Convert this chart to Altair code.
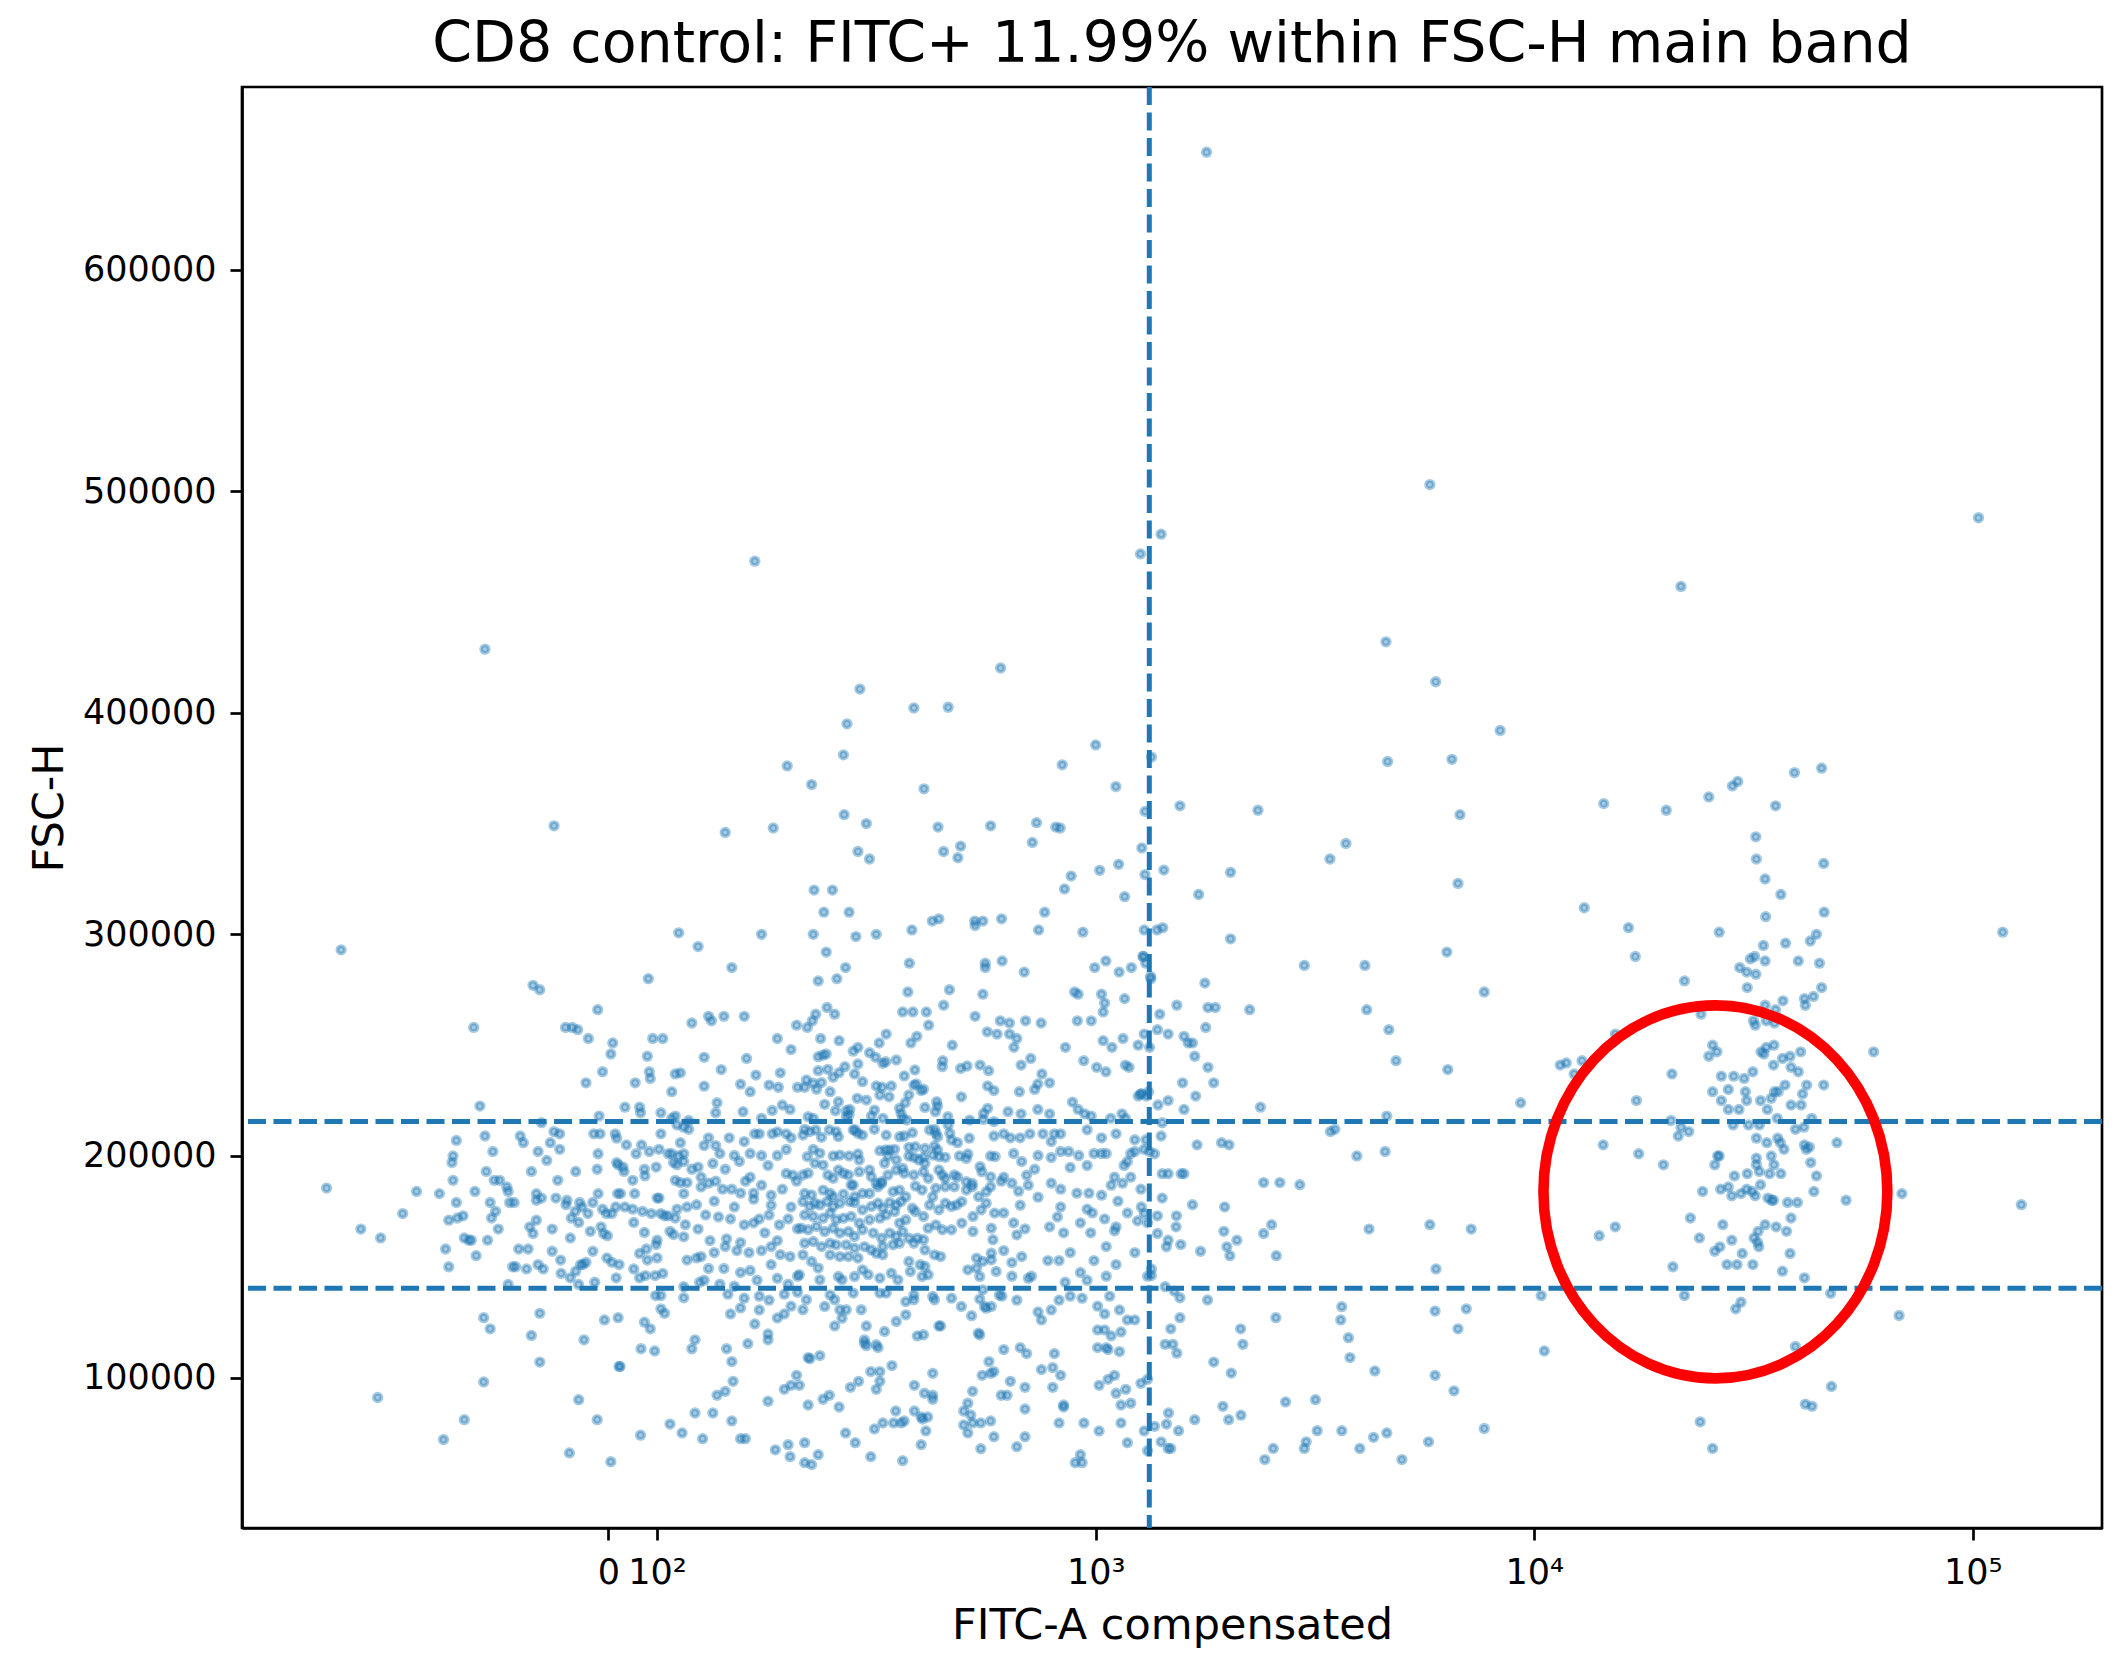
import math
import altair as alt
import pandas as pd

TITLE = "CD8 control: FITC+ 11.99% within FSC-H main band"
X_TITLE = "FITC-A compensated"
Y_TITLE = "FSC-H"
BLUE = "#1f77b4"
RED = "#ff0000"

x_tick_values = [0, 100, 1000, 10000, 100000]
x_tick_labels = ["0", "10²", "10³", "10⁴", "10⁵"]
y_tick_values = [100000, 200000, 300000, 400000, 500000, 600000]
x_limits = [-530, 197000]
y_limits = [32100, 682400]
fitc_gate = [1325]
fsc_band = [140300, 215500]
highlight_center = [25880, 183800]

# points: (FITC-A compensated, FSC-H in thousands)
outlier_points = [(1790, 653)]

left_points = [
    (-315, 293), (-340, 185.5), (-284, 167), (-256, 163), (-228, 174), (-212, 184), (-188, 183), (-260, 91), (-184, 72), (-165, 81),
    (-157, 258), (-152, 222.5), (-172, 207), (-175, 200), (-176, 197), (-175, 189), (-172, 179), (-179, 171), (-171, 172), (-166, 173),
    (-182, 158), (-179, 150), (-165, 163), (-161, 162), (-159, 162), (-155, 155), (-148, 209), (-142, 202), (-147, 193), (-141, 189),
    (-137, 189), (-132, 186), (-131, 184), (-156, 184), (-144, 179), (-140, 175), (-143, 172), (-130, 179), (-127, 179), (-138, 167),
    (-146, 162), (-124, 158), (-118, 158), (-128, 150), (-126, 150), (-119, 149), (-131, 142), (-149, 127), (-144, 122), (-111, 129),
    (-116, 119), (-111, 107), (-149, 98), (-123, 209), (-121, 206), (-115, 277), (-111, 275), (-112, 202), (-107, 198), (-105, 206),
    (-100, 203), (-103, 211), (-100, 210), (-110, 215), (-116, 193), (-113, 183), (-110, 181), (-113, 180), (-117, 168), (-115, 165),
    (-113, 171), (-104, 167), (-104, 157), (-112, 151), (-109, 149), (-98, 153), (-88, 258), (-74, 258), (-63, 257), (-101, 189),
    (-102, 181), (-85, 180), (-87, 178), (-76, 172), (-78, 163), (-67, 193), (-59, 179), (-54, 177), (-68, 175), (-61, 170),
    (-97, 147), (-78, 145), (-67, 148), (-57, 151), (-41, 253), (-22, 266), (-46, 233), (-12, 238), (9, 251), (5, 246),
    (-30, 210), (-17, 210), (-21, 201), (-23, 194), (-21, 183), (-32, 179), (-42, 174), (-12, 176), (-4, 174), (7, 174),
    (-37, 166), (-15, 168), (-10, 165), (-2, 164), (-32, 157), (-46, 152), (-52, 151), (-28, 143), (-61, 142), (-3, 154),
    (16, 145), (7, 152), (22, 151), (-8, 126), (20, 127), (-50, 117), (22, 105), (-61, 90), (-23, 81), (-80, 66),
    (5, 62), (34, 222), (64, 222), (66, 219.5), (-19, 218), (14, 210), (17, 208), (37, 205), (57, 201), (68, 205),
    (84, 202), (101, 203), (102, 210), (17, 197), (20, 196), (30, 195), (32, 193), (50, 189), (74, 194), (75, 191),
    (98, 195), (19, 183), (25, 183), (54, 183), (15, 177), (34, 177), (50, 176), (70, 175), (52, 170), (74, 165.5),
    (88, 174), (102, 174), (104, 173), (100, 181), (101, 181), (100, 162), (98, 160), (64, 156), (78, 158), (100, 154),
    (80, 153), (52, 149), (64, 145), (76, 146), (96, 146), (103, 147), (97, 137), (102, 137), (102, 131), (104, 129),
    (86, 122), (74, 125), (67, 113), (95, 112), (24, 105), (66, 74), (107, 79), (114, 75), (122, 84), (122, 117),
    (120, 113), (108, 217), (110, 218), (118, 216), (102, 219.5), (110, 237), (113, 237.5), (108, 229), (82, 280), (112, 300.7),
    (124, 294.5), (120, 260), (91, 253), (103, 253), (80, 245), (84, 238), (86, 235), (55, 233), (111, 214), (115, 213),
    (118, 212), (113, 206), (106, 201), (108, 201), (112, 200), (115, 201), (109, 197), (111, 196), (115, 197.5),
    (120, 194), (124, 195), (110, 189), (113, 188), (117, 188), (115, 183), (126, 186), (117, 177), (111, 176), (123, 178),
    (106, 173), (110, 172), (116, 169), (124, 167), (107, 166), (109, 164.5), (115, 163.5), (117, 153), (123, 154), (125, 143),
    (115, 141), (115, 136),
]

upper_scatter_points = [
    (167, 468.4), (-148, 428.7), (1265, 471.7), (1410, 480.6), (607, 420.2), (290, 410.7), (385, 402.2), (461, 402.5),
    (271, 395), (1000, 385.5), (1340, 380), (266, 381), (198, 376), (839, 376.5), (225, 367.6), (406, 365.7), (1112, 366.7),
    (1296, 355.5), (-103, 349), (143, 346), (184, 348), (267, 354), (300, 350), (437, 348.4), (576, 349), (733, 350.4),
    (811, 348.4), (830, 348), (287, 337.4), (305, 334), (450, 337.4), (492, 339.8), (485, 334.6), (717, 341.5), (1274, 339),
    (879, 326.3), (1021, 328.9), (1128, 331.6), (1296, 327), (1430, 329),
]

core_upper_points = [
    (228, 320), (251, 320), (240, 310), (274, 310), (173, 300), (227, 300), (284, 299), (316, 300), (381, 302), (424, 306),
    (439, 307), (530, 306), (553, 306), (531, 304), (610, 307), (741, 302), (765, 310), (849, 320.5), (1164, 317), (935, 301),
    (243, 292), (148, 285), (269, 285), (233, 279), (257, 280), (376, 287), (464, 275), (553, 273), (560, 287), (560, 285),
    (612, 288), (687, 283), (373, 274), (895, 274), (912, 273), (995, 285), (1055, 288), (1131, 283), (1206, 285), (1282, 290),
    (1336, 280), (1031, 273), (1048, 269), (1040, 265), (1164, 271), (977, 261), (908, 261), (751, 260), (692, 261), (636, 260),
    (606, 261), (531, 263), (450, 268), (363, 265), (383, 265), (411, 265), (416, 259), (244, 267), (254, 264), (208, 259),
    (220, 258), (226, 261), (230, 264), (131, 263), (133, 261), (142, 263), (158, 263),
    (188, 253), (202, 248), (236, 253), (260, 252), (282, 248), (287, 249), (321, 251), (333, 255), (306, 246), (314, 244.5),
    (379, 251), (391, 254), (471, 250), (566, 256), (596, 255), (636, 255), (661, 253), (651, 249), (853, 249), (1040, 252),
    (1089, 249), (1154, 253), (1250, 250), (939, 243), (1005, 240), (1055, 238), (1169, 241), (1191, 240), (1327, 249), (676, 241),
    (711, 244), (754, 237), (785, 233), (738, 232.5), (726, 230), (555, 241), (582, 238.5), (557, 232.5), (455, 242.5), (452, 240),
    (502, 239), (511, 240), (392, 238), (371, 236), (354, 243), (320, 242), (247, 239), (270, 240), (254, 236), (265, 236),
    (232, 244), (243, 246), (236, 239), (225, 234), (217, 231), (209, 231), (168, 236.5), (191, 237.5), (180, 232), (189, 231),
    (160, 244), (140, 239), (128, 244.5), (128, 231.5), (137, 224), (136, 219.5), (155, 232.4), (163, 229), (157, 220), (183, 220.5),
    (173, 217), (193, 223), (201, 221), (214, 220), (243, 222.5), (257, 224), (274, 221), (288, 226), (302, 225), (320, 231),
    (345, 230.5), (343, 227), (349, 226), (364, 221), (367, 219), (385, 232), (403, 230.5), (416, 229.7), (438, 224), (441, 221),
    (414, 221), (504, 226), (578, 231.5), (596, 229.7), (670, 229), (885, 224.3), (912, 221), (944, 219), (977, 218), (1082, 217),
    (1148, 219), (1169, 217), (1250, 227), (1267, 228), (1305, 227), (738, 221), (785, 219), (676, 219), (631, 220), (520, 220),
    (580, 221),
]

core_band_points = [
    (131, 208.2), (136, 204.7), (146, 208.2), (158, 206.5), (167, 210), (171, 210), (183, 210), (188, 210.9), (197, 210), (202, 208.2),
    (221, 211.8), (228, 210), (239, 210.9), (247, 210), (262, 210.9), (271, 210), (283, 208.2), (296, 208.2), (316, 210.9), (337, 210),
    (359, 208.2), (386, 210), (421, 210.9), (432, 211.8), (459, 207.3), (471, 210), (492, 206.5), (528, 210), (586, 214.5), (617, 210),
    (639, 208.2), (673, 208.2), (708, 210), (758, 210), (792, 206.5), (805, 210), (832, 210), (868, 202), (956, 211.8), (1031, 208.2),
    (1113, 210), (1202, 201.1), (1228, 207.3), (1302, 207.3),
    (128, 204.7), (134, 196.6), (139, 201.1), (143, 194), (150, 200.2), (154, 197.5), (163, 201.1), (173, 200.2), (179, 195.7), (188, 200.2),
    (197, 202.9), (204, 191.3), (213, 192.1), (221, 204.7), (231, 200.2), (237, 201.1), (251, 200.2), (258, 200.2), (274, 200.2), (286, 200.2),
    (296, 204.7), (307, 202.9), (325, 199.3), (337, 201.1), (356, 203.8), (366, 200.2), (379, 197.5), (393, 201.1), (414, 200.2), (429, 202.9),
    (440, 204.7), (463, 200.2), (483, 200.2), (511, 200.2), (537, 197.5), (551, 194), (590, 200.2), (609, 188.6), (650, 201.1), (678, 197.5),
    (696, 191.3), (739, 200.2), (792, 199.3), (832, 202), (875, 194.8), (915, 200.2), (956, 195.7), (991, 201.1), (1031, 201.1), (1057, 201.1),
    (1104, 190.4), (1161, 195.7), (1181, 197.5), (1228, 202), (1326, 202), (726, 194), (576, 193), (337, 193), (262, 192.1), (197, 192.1),
    (163, 190.4),
    (126, 190.4), (131, 187.7), (136, 188.6), (141, 185), (148, 185), (155, 183.2), (159, 188.6), (166, 183.2), (173, 186.8), (182, 182.3),
    (193, 185), (208, 188.6), (219, 182.3), (227, 181.4), (235, 190.4), (247, 187.7), (254, 182.3), (266, 186.8), (283, 185), (296, 183.2),
    (307, 187.7), (322, 185), (337, 182.3), (353, 189.5), (360, 185), (373, 181.4), (400, 186.8), (421, 188.6), (436, 185), (459, 187.7),
    (475, 190.4), (496, 185), (511, 186.8), (528, 181.4), (556, 182.3), (580, 183.2), (617, 190.4), (644, 187.7), (667, 184.1), (702, 186.8),
    (739, 181.4), (792, 187.7), (832, 185), (906, 183.2), (965, 183.2), (1031, 182.3), (1085, 186.8), (1151, 187.7), (1202, 190.4), (1268, 185),
    (1124, 179.6), (956, 176), (832, 177), (673, 177.8), (596, 176), (528, 177.8), (475, 177), (421, 177.8), (386, 176), (337, 179.6),
    (296, 175.2), (271, 177.8), (254, 176), (225, 179.6), (202, 177), (182, 177.8), (166, 180.5), (150, 177), (135, 179.6),
    (129, 173.4), (138, 172.5), (147, 171.6), (158, 168.9), (166, 169.8), (171, 171.6), (180, 173.4), (190, 168.9), (199, 171.6), (209, 167.1),
    (221, 169.8), (235, 172.5), (245, 168.9), (258, 171.6), (271, 167.1), (286, 169.8), (302, 172.5), (313, 166.2), (331, 171.6), (350, 168),
    (366, 169.8), (386, 174.3), (407, 167.1), (429, 169.8), (451, 173.4), (475, 166.2), (500, 169.8), (528, 167.1), (556, 171.6), (586, 168.9),
    (617, 174.3), (650, 169.8), (690, 167.1), (785, 168), (818, 172.5), (845, 165.3), (923, 169.8), (983, 174.3), (1048, 171.6), (1113, 168),
    (1181, 174.3), (1246, 170.7), (1313, 169.8), (132, 161.8), (144, 162.6), (155, 160.9), (176, 165.3), (188, 161.8), (213, 164.4), (228, 161.8),
    (243, 163.5), (264, 162.6), (278, 161.8), (325, 164.4), (359, 162.6), (393, 161.8), (443, 164.4), (492, 166.2), (524, 165.3), (576, 163.5),
    (661, 164.4), (974, 165.3), (1104, 166.2),
    (126, 154.6), (135, 156.4), (143, 159.1), (152, 157.3), (162, 156.4), (173, 157.3), (182, 159.1), (191, 155.5), (201, 154.6), (213, 154.6),
    (225, 158.2), (241, 156.4), (254, 159.1), (266, 154.6), (281, 157.3), (296, 154.6), (313, 158.2), (331, 155.5), (350, 156.4), (360, 160),
    (379, 151), (403, 150.1), (421, 154.6), (443, 154.6), (467, 157.3), (511, 147.4), (537, 152.8), (566, 154.6), (586, 147.4), (617, 157.3),
    (644, 151.9), (678, 154.6), (714, 145.7), (778, 152.8), (825, 152.8), (875, 156.4), (923, 147.4), (991, 152.8), (1057, 159.1), (1113, 151),
    (1228, 156.4), (1313, 145.7), (131, 149.2), (142, 149.2), (155, 147.4), (163, 148.3), (182, 151), (209, 145.7), (225, 149.2), (237, 147.4),
    (249, 149.2), (262, 144.8), (286, 145.7), (302, 151), (325, 145.7), (346, 145.7), (373, 145.7), (393, 147.4), (421, 145.7), (451, 142.1),
    (492, 143.9), (542, 145.7), (596, 145.7), (644, 145.7), (702, 144.8), (852, 143), (956, 143.9), (1057, 145.7), (128, 143.9), (139, 142.1),
    (150, 141.2), (169, 143.9), (188, 144.8), (199, 142.1), (249, 143), (276, 142.1), (307, 143.9), (337, 141.2),
]

core_lower_points = [
    (145, 137.6), (158, 135.8), (171, 136.7), (180, 134.9), (195, 137.6), (209, 138.5), (225, 134), (243, 131.4), (254, 136.7), (266, 132.2),
    (281, 137.6), (293, 129.6), (313, 138.5), (325, 136.7), (337, 137.6), (360, 138.5), (376, 133.1), (389, 134), (429, 135.8), (459, 137.6),
    (475, 134.9), (500, 131.4), (537, 137.6), (566, 131.4), (611, 136.7), (661, 134.9), (739, 129.6), (792, 130.5), (825, 134.9), (875, 136.7),
    (931, 135.8), (1010, 132.2), (1076, 136.7), (1048, 128.7), (1133, 130.5), (1181, 126), (1228, 126), (752, 126),
    (147, 128.7), (155, 131.4), (171, 130.5), (188, 126.9), (195, 128.7), (202, 132.2), (213, 130.5), (256, 122.4), (260, 128.7), (266, 126),
    (302, 122.4), (334, 120.6), (356, 125.1), (373, 126.9), (396, 117.9), (414, 118.8), (443, 122.4), (447, 122.8), (542, 118.8), (547, 117.9),
    (617, 112.6), (673, 113.5), (696, 110.8), (805, 110.8), (1010, 121.5), (1048, 121.5), (1085, 118.8), (1142, 120.6), (1010, 113.5), (1057, 113.5),
    (1067, 112.6), (1133, 111.7),
    (167, 124.2), (179, 119.7), (179, 117), (161, 115.3), (144, 113), (148, 107.2), (221, 109), (223, 108.5), (235, 109.9), (299, 116.2),
    (300, 114.4), (319, 113.5), (322, 102.7), (307, 102.7), (343, 105.4), (208, 101), (202, 96.5), (211, 96.5), (195, 94.7), (149, 98.3),
    (143, 93.8), (137, 92), (179, 89.3), (221, 87.6), (239, 90.2), (247, 92), (260, 86.7), (276, 95.6), (288, 98.3), (316, 94.7),
    (322, 98.3), (386, 96.5), (425, 101.9), (407, 92.9), (425, 92), (425, 90.2), (524, 93.8), (551, 101), (576, 101.9), (586, 102.7),
    (571, 107.2), (639, 98.3), (609, 92), (628, 92), (690, 95.6), (752, 103.6), (798, 104.5), (832, 101), (798, 95.6), (845, 87.6),
    (1018, 96.5), (1067, 99.2), (1104, 101), (1113, 92.9), (1171, 94.7), (1142, 87.6), (1202, 88.4), (1268, 97.4), (1313, 99.2),
    (134, 84), (148, 80.4), (155, 72.4), (159, 72.4), (186, 67.4), (199, 69.7), (201, 64.3), (217, 61.6), (225, 60.7), (217, 70.6),
    (233, 65.2), (269, 75), (283, 70.6), (307, 64.3), (313, 76.8), (327, 79.5), (350, 84.9), (346, 79.5), (360, 79.5), (366, 80.4),
    (386, 84.9), (400, 82.2), (403, 81.3), (414, 82.2), (410, 75.9), (400, 69.7), (363, 62.5), (500, 84.9), (511, 88.4), (519, 83.1),
    (500, 78.6), (511, 75), (524, 79.5), (547, 79.5), (576, 80.4), (547, 67.9), (586, 73.3), (661, 68.8), (690, 85.8), (690, 73.3),
    (825, 79.5), (845, 86.7), (940, 79.5), (1018, 75.9), (923, 65.2), (898, 61.6), (931, 61.6), (1142, 79.5), (1181, 70.6), (1313, 67),
    (1290, 75.9), (127, 72.4),
]

# finer re-reading of the densest block (FITC 211-604, FSC-H 114.5k-248k)
fine_block = (211, 604, 114.5, 248)
dense_upper_points = [
    (233, 244.8), (239, 245.5), (243, 246), (280, 247.3), (305, 246.6), (315, 244.5), (351, 243.3), (327, 241.8), (332, 242.5), (287, 241.5),
    (268, 240.3), (245, 239.1), (233, 238.5), (260, 237.6), (252, 235.5), (282, 237), (294, 233.5), (366, 236.1), (387, 238.8), (448, 243),
    (447, 240.3), (492, 239.5), (509, 240.6), (545, 241), (570, 238.5), (219, 234.3), (227, 232.8), (237, 233.1), (217, 231), (231, 230.1),
    (248, 229), (316, 231.6), (326, 231), (342, 231.6), (322, 227.5), (338, 226.7), (375, 227.5), (385, 232), (390, 232.5), (405, 230.1),
    (400, 229.5), (494, 226.7), (567, 231.6), (586, 229.5), (286, 226), (300, 225.2), (259, 224.5), (241, 223.3), (255, 220.4), (270, 220.4),
    (275, 221), (313, 220.7), (357, 221.5), (368, 224), (360, 219.2), (408, 221.9), (434, 224.5), (436, 222.5), (431, 220), (460, 217.7),
    (555, 219.2), (567, 221.5), (221, 217.7), (227, 217), (270, 217.7), (274, 218.5), (308, 218), (327, 217), (363, 217), (371, 216.2),
    (461, 214), (516, 216.2), (554, 216.5), (586, 215.5), (217, 212), (215, 209.4), (223, 211), (230, 211.7), (247, 211.7), (256, 211),
    (259, 208.7), (237, 208.4), (280, 211.7), (287, 210.2), (294, 209.4), (283, 211.7), (313, 212), (333, 209.4), (357, 208.7), (366, 209),
    (382, 210.5), (418, 211.7), (429, 212), (432, 210.2), (436, 208.7), (465, 210.2), (469, 207.2), (484, 206), (515, 208), (586, 209),
    (227, 203), (235, 201.2), (220, 199.7), (229, 196.7), (239, 195.9), (252, 200), (261, 200.4), (274, 200), (287, 200.9), (289, 198.2),
    (322, 202.4), (332, 202.7), (339, 202.7), (348, 203), (336, 200), (330, 196.7), (351, 198.2), (375, 203.9), (388, 204.2), (408, 203.4),
    (375, 200), (385, 199.4), (395, 198.2), (405, 199.4), (429, 204.5), (436, 202.7), (425, 200.4), (439, 199.7), (454, 199.4), (489, 200),
    (511, 200.9), (507, 198.9), (576, 200), (590, 199.7), (215, 191.4), (221, 192.2), (245, 191.4), (252, 189.9), (259, 193.7), (266, 192.2),
    (273, 191.4), (280, 186.9), (289, 192.9), (305, 193.7), (308, 190.6), (325, 188.4), (316, 187.6), (336, 191.4), (351, 193.7), (363, 194.4),
    (366, 192.2), (385, 191.4), (405, 192.9), (408, 196.7), (415, 189.9), (439, 193.7), (447, 191.4), (454, 189.9), (476, 191.4), (484, 190.6),
    (507, 188.4), (523, 187.6), (545, 195.2), (550, 192.9), (576, 190.6), (217, 183.1), (225, 182.4), (239, 184.6), (248, 183.1), (252, 181.6),
    (266, 182.8), (277, 186.9), (282, 181.6), (294, 183.1), (305, 183.1), (319, 186.1), (325, 187.6), (345, 183.9), (357, 184.6), (369, 181.6),
    (388, 186.4), (402, 184.6), (425, 181.6), (432, 185.4), (454, 186.1), (476, 186.1), (507, 184.6), (523, 186.1), (541, 181.6), (563, 183.9),
    (576, 186.1),
]

dense_lower_points = [
    (215, 179.4), (223, 177.2), (229, 178.7), (235, 177.9), (244, 179.4), (252, 177.2), (261, 178.7), (275, 179.4), (282, 179), (294, 175.7),
    (308, 177.2), (319, 178.7), (327, 176.4), (339, 179), (351, 177.9), (360, 179.4), (382, 176.4), (388, 174.9), (405, 172.7), (418, 177.9),
    (439, 175.7), (454, 178.7), (469, 177.2), (482, 177.9), (495, 179.4), (525, 172.7), (548, 175.7), (563, 178.7), (588, 174.2), (217, 173.4),
    (227, 172.7), (239, 171.9), (248, 174.2), (256, 171.2), (266, 171.9), (277, 172.7), (289, 169.7), (305, 171.2), (322, 171.9), (333, 173.4),
    (348, 174.9), (357, 169.7), (369, 171.2), (213, 167.4), (221, 166.7), (231, 168.2), (241, 165.9), (252, 167.4), (261, 165.2), (273, 165.9),
    (282, 163.7), (294, 166.7), (311, 165.2), (325, 162.9), (339, 165.2), (351, 163.7), (363, 165.9), (375, 162.9), (392, 162.9), (405, 162.2),
    (415, 167.4), (432, 168.9), (447, 166.7), (469, 166.7), (495, 169.7), (525, 165.9), (578, 167.4), (583, 162.2), (217, 160.6), (227, 161.4),
    (237, 159.1), (248, 160.6), (256, 159.9), (270, 159.9), (282, 158.4), (297, 159.1), (308, 157.6), (327, 159.1), (345, 159.9), (357, 160.6),
    (385, 160.6), (408, 157.6), (429, 155.4), (443, 154.6), (215, 155.4), (225, 152.4), (233, 149.4), (235, 144.1), (248, 155.4), (261, 154.6),
    (273, 154.6), (287, 153.9), (294, 148.6), (303, 146.4), (282, 145.6), (259, 145.6), (264, 144.1), (316, 156.1), (327, 155.4), (342, 147.1),
    (354, 144.1), (322, 144.9), (375, 152.4), (378, 147.9), (398, 150.9), (408, 150.1), (402, 145.6), (415, 146.4), (535, 153.9), (553, 152.4),
    (578, 156.1), (578, 153.1), (511, 148.6), (535, 149.4), (544, 145.6), (593, 147.9), (211, 146.4),
    (219, 135.1), (241, 132.1), (248, 137.3), (254, 135.1), (261, 130.6), (270, 130.6), (264, 126.8), (254, 123.3), (280, 138.1), (292, 130.6),
    (300, 123.3), (297, 117), (297, 115.5), (316, 114.8), (330, 120.8), (322, 138.1), (333, 138.1), (351, 125.3), (369, 128.3), (369, 134.3),
    (385, 135.1), (385, 137.3), (425, 136.6), (429, 135.1), (469, 135.8), (439, 123.3), (443, 123.3), (392, 118.8), (405, 119.3), (494, 132.1),
    (521, 127.9), (544, 135.4), (553, 139.6), (558, 132.1), (563, 131.3), (578, 132.1), (540, 120), (544, 119.3), (603, 137.3), (215, 130.6),
]

mid_right_points = [
    (5780, 503), (4590, 432), (5960, 414), (8360, 392), (4630, 378), (6490, 379), (1556, 358), (2344, 356), (6770, 354), (14400, 359),
    (3720, 341), (3420, 334), (2030, 328), (6700, 323), (1717, 318), (13000, 312), (1422, 303), (1380, 302), (1290, 302), (2030, 298),
    (16400, 303), (17000, 290), (6320, 292), (1285, 290), (1300, 287), (2990, 286), (4110, 286), (1334, 281), (1774, 278), (7690, 274),
    (1531, 268), (1803, 267), (1875, 267), (2244, 266), (4150, 266), (1400, 264), (1383, 257), (1463, 255), (1290, 255), (1782, 258),
    (4660, 257), (1590, 254), (1625, 251), (1662, 251), (1682, 245), (4840, 243), (1803, 240), (6350, 239), (11460, 241), (11830, 242),
    (12330, 237), (12850, 243), (1578, 233), (1858, 233), (1271, 228), (1320, 229), (1690, 227), (1387, 223), (1463, 225), (1590, 221),
    (2375, 222), (9310, 224), (17100, 225), (4610, 218), (1418, 215), (1410, 209), (3430, 211), (3510, 212), (1703, 205), (1936, 206),
    (2014, 205), (14360, 205), (1290, 203), (1362, 201), (4570, 202), (3940, 200), (17300, 201), (1418, 192), (1463, 192), (1566, 192),
    (1589, 192), (2415, 188), (2630, 188), (2920, 187), (1418, 181), (1662, 178), (1968, 177), (1290, 174), (1383, 173), (1271, 177),
    (1528, 173), (1525, 168), (1383, 165), (2518, 169), (2415, 165), (1960, 166), (4200, 167), (5780, 169), (7180, 167), (14060, 164),
    (15300, 168), (1463, 162), (1450, 159), (1563, 160), (1991, 159), (2099, 162), (2023, 155), (1734, 157), (2582, 155), (5970, 149),
    (1340, 149), (1340, 146), (1440, 141), (1510, 139), (1556, 136), (1799, 135), (10370, 137), (3640, 132), (3620, 126), (5940, 130),
    (7000, 131), (1556, 127), (2575, 127), (2140, 122), (2165, 115), (6700, 122), (1483, 122), (1440, 115), (1500, 115), (1531, 111),
    (3770, 118), (3800, 109), (10540, 112), (1858, 107), (2038, 102), (4330, 103), (5940, 101), (6560, 94), (2710, 89), (3170, 90),
    (1950, 87), (1466, 84), (1450, 79), (1362, 78), (1410, 71), (1463, 68), (1483, 68), (1545, 76), (1682, 81), (2010, 81),
    (2144, 83), (3200, 76), (3640, 76), (4610, 75), (4300, 73), (7690, 77), (3020, 71), (2990, 68), (2540, 68), (2430, 63),
    (4000, 68), (5740, 71), (4990, 63),
]

right_cluster_points = [
    (103000, 488), (21600, 457), (20000, 356), (25000, 362), (28300, 367), (29100, 369), (35500, 358), (39200, 373), (45200, 375), (32000, 344),
    (32100, 334), (33600, 325), (36500, 318), (45700, 332), (45800, 310), (33700, 308), (26400, 301), (33300, 295), (37400, 296), (42600, 297),
    (44000, 300), (29400, 285), (30500, 283), (31100, 289), (31800, 290), (32000, 282), (33600, 288), (40000, 288), (44700, 287), (22000, 279),
    (30600, 276), (45200, 276), (41300, 271), (43300, 272), (41500, 268), (36900, 270), (33600, 268), (35500, 266), (24000, 264), (31600, 261),
    (31900, 259), (33800, 261), (35300, 260), (15300, 255), (25500, 250), (26100, 247), (25000, 245), (32900, 247), (33800, 249), (35200, 250),
    (33400, 246), (36800, 244), (38300, 245), (40500, 247), (59400, 247), (20600, 237), (26700, 236), (28500, 236), (30100, 235), (31500, 238),
    (35100, 241), (38500, 240), (40000, 238), (45700, 232), (25500, 229), (27700, 230), (30300, 229), (30500, 225), (35300, 229), (37300, 232),
    (36000, 229), (41800, 232), (40900, 228), (26700, 225), (32800, 225), (34700, 226), (38500, 223), (40600, 223), (27700, 221), (29300, 221),
    (34000, 221), (35800, 217), (42900, 217), (20500, 216), (28400, 214), (30800, 214), (32600, 214), (21600, 213), (22500, 211), (21300, 209),
    (39400, 212), (41200, 213), (35900, 208), (36400, 206), (37100, 203), (32100, 208), (33900, 206), (41300, 205), (42400, 204), (41700, 203),
    (49000, 206), (26200, 200), (26400, 200), (34700, 200), (32100, 199), (25800, 196), (19700, 196), (32100, 196), (32600, 193), (35200, 196),
    (42700, 197), (28600, 191), (30600, 192), (34400, 192), (36500, 192), (44000, 191), (24200, 184), (26600, 185), (27700, 186), (28200, 182),
    (29600, 183), (30500, 185), (31400, 184), (31900, 182), (32800, 187), (34100, 181), (34800, 180), (35100, 180), (37800, 179), (39800, 179),
    (43400, 184), (51400, 180), (68900, 183), (129000, 178), (22700, 172), (26900, 169), (33600, 169), (35600, 168), (37600, 166), (38500, 172),
    (23800, 163), (28200, 162), (31700, 163), (32400, 166), (32300, 161), (32500, 159), (25800, 157), (26500, 159), (29800, 156), (38300, 156),
    (20700, 150), (27500, 151), (29000, 151), (31500, 151), (36800, 148), (41300, 145), (22000, 137), (47400, 138), (28800, 131), (29600, 134),
    (67900, 128), (39400, 114), (47600, 96), (41500, 88), (43000, 87), (23900, 80), (25500, 68), (117000, 301),
]

# matplotlib-style symlog (linthresh=100, linscale=0.1, base 10), in decades
LINTHRESH = 100.0
LINSCALE_ADJ = 0.1 / (1.0 - 1.0 / 10.0)


def symlog(v):
    a = abs(v)
    if a <= LINTHRESH:
        return v / LINTHRESH * LINSCALE_ADJ
    return math.copysign(LINSCALE_ADJ + math.log10(a / LINTHRESH), v)


def outside_fine_block(p):
    x0, x1, y0, y1 = fine_block
    return not (x0 <= p[0] <= x1 and y0 <= p[1] <= y1)


coarse_core = [p for p in core_upper_points + core_band_points + core_lower_points if outside_fine_block(p)]
all_points = (outlier_points + left_points + upper_scatter_points + coarse_core
              + dense_upper_points + dense_lower_points + mid_right_points + right_cluster_points)
df = pd.DataFrame(all_points, columns=["fitc", "fsc_k"])
df["fsc"] = df["fsc_k"] * 1000
df["xs"] = df["fitc"].map(symlog)

tick_pos = [symlog(v) for v in x_tick_values]
label_expr = ""
for p, lab in zip(tick_pos, x_tick_labels):
    label_expr += f"abs(datum.value - {p:.6f}) < 0.01 ? '{lab}' : "
label_expr += "''"

x_enc = alt.X(
    "xs:Q",
    scale=alt.Scale(domain=[symlog(x_limits[0]), symlog(x_limits[1])], nice=False, zero=False),
    axis=alt.Axis(title=X_TITLE, values=tick_pos, labelExpr=label_expr, labelOverlap=False,
                  labelFlush=False, labelPadding=15, titlePadding=14, grid=False),
)
y_enc = alt.Y(
    "fsc:Q",
    scale=alt.Scale(domain=y_limits, nice=False, zero=False),
    axis=alt.Axis(title=Y_TITLE, values=y_tick_values, format="d", labelPadding=14,
                  titlePadding=11, grid=False),
)

# marker body (outer diameter ~11 px, alpha 0.4)
point_body = alt.Chart(df).mark_circle(
    size=11.3 * 11.3, color=BLUE, opacity=0.4
).encode(x=x_enc, y=y_enc)

# marker edge ring (darker annulus like matplotlib's face+edge overlap)
point_ring = alt.Chart(df).mark_point(
    shape="circle", filled=False, size=5.8 * 5.8, color=BLUE, opacity=0.4, strokeWidth=1.9
).encode(x=x_enc, y=y_enc)

vline = alt.Chart(pd.DataFrame({"xs": [symlog(v) for v in fitc_gate]})).mark_rule(
    color=BLUE, strokeWidth=5, strokeDash=[18, 7.5]
).encode(x=x_enc)

hlines = alt.Chart(pd.DataFrame({"fsc": fsc_band})).mark_rule(
    color=BLUE, strokeWidth=5, strokeDash=[18, 7.5]
).encode(y=y_enc)

# ellipse outline (unit box path, slightly taller than wide)
a = 0.922
k = 0.5523
ELLIPSE = (f"M 0 -1 C {k*a:.4f} -1 {a} {-k} {a} 0 C {a} {k} {k*a:.4f} 1 0 1 "
           f"C {-k*a:.4f} 1 {-a} {k} {-a} 0 C {-a} {-k} {-k*a:.4f} -1 0 -1 Z")
ring_df = pd.DataFrame({"xs": [symlog(highlight_center[0])], "fsc": [highlight_center[1]]})
ring = alt.Chart(ring_df).mark_point(
    shape=ELLIPSE, size=373 * 373, filled=False, stroke=RED, strokeWidth=10.6, opacity=1
).encode(x=x_enc, y=y_enc)

chart = alt.layer(point_body, point_ring, vline, hlines, ring).properties(
    width=1860,
    height=1441,
    background="white",
    autosize=alt.AutoSizeParams(type="none"),
    padding={"left": 234, "top": 79, "right": 16, "bottom": 134},
    title=alt.TitleParams(TITLE, fontSize=57, font="DejaVu Sans", fontWeight="normal",
                          anchor="middle", color="black", offset=-34, baseline="alphabetic"),
).configure_axis(
    labelFont="DejaVu Sans", labelFontSize=35, labelColor="black",
    titleFont="DejaVu Sans", titleFontSize=43, titleFontWeight="normal", titleColor="black",
    tickColor="black", tickWidth=2.7, tickSize=12, domainColor="black", domainWidth=2.7,
).configure_view(
    stroke="black", strokeWidth=2.7
)

chart.save("out.html", embed_options={"renderer": "svg", "actions": False})
